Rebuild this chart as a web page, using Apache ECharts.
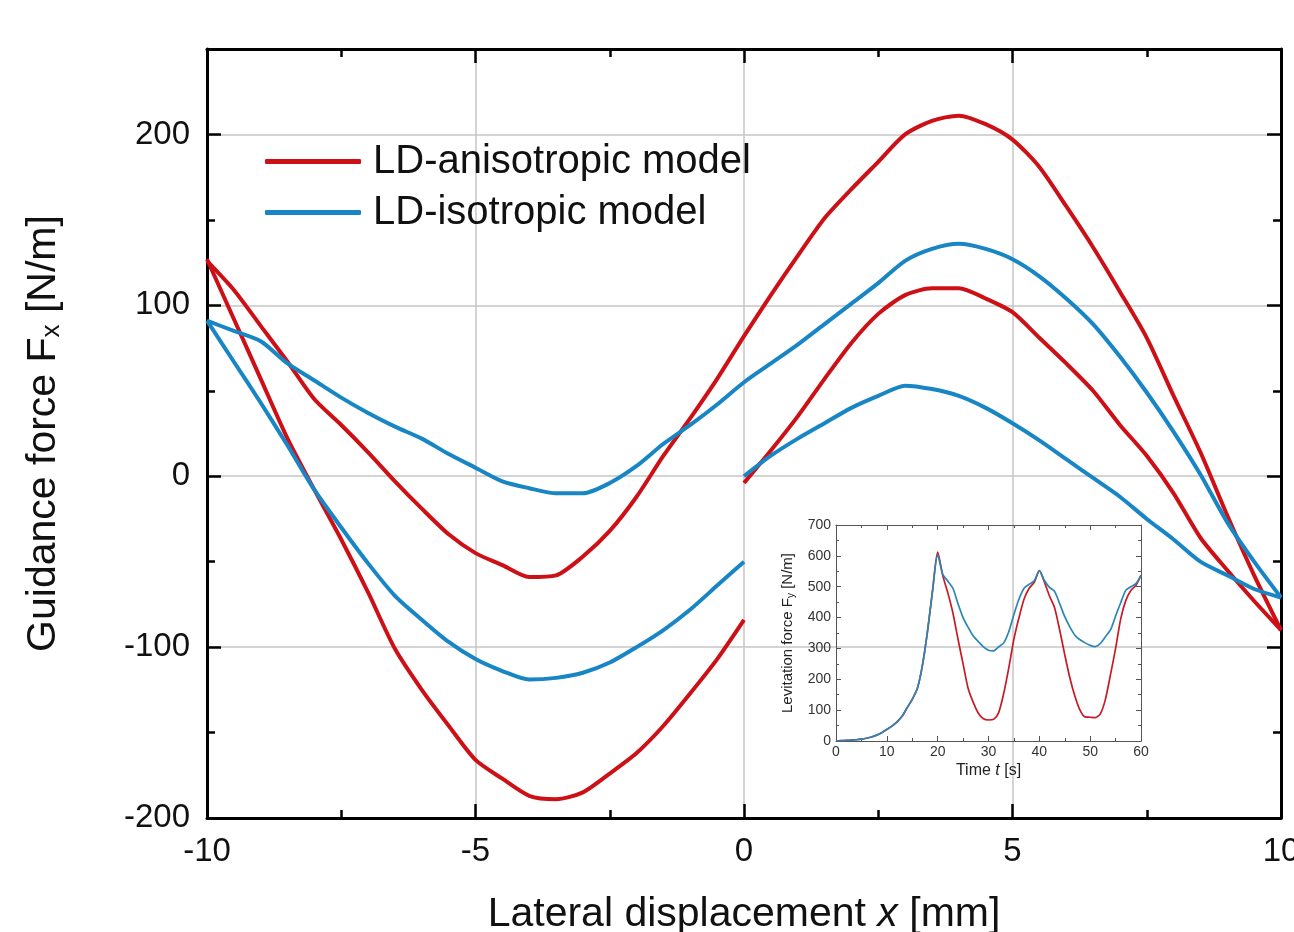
<!DOCTYPE html>
<html>
<head>
<meta charset="utf-8">
<script src="https://cdn.jsdelivr.net/npm/echarts@6/dist/echarts.min.js"></script>
<style>
html,body{margin:0;padding:0;background:#fff;}
#chart{width:1294px;height:932px;}
</style>
</head>
<body>
<div id="chart"></div>
<script>
// ---- Main chart data: lateral displacement x [mm] ----
const xFull = [-10,-9.5,-9,-8.5,-8,-7.5,-7,-6.5,-6,-5.5,-5,-4.5,-4,-3.5,-3,-2.5,-2,-1.5,-1,-0.5,0,0.5,1,1.5,2,2.5,3,3.5,4,4.5,5,5.5,6,6.5,7,7.5,8,8.5,9,9.5,10];
const xLeft = [-10,-9.5,-9,-8.5,-8,-7.5,-7,-6.5,-6,-5.5,-5,-4.5,-4,-3.5,-3,-2.5,-2,-1.5,-1,-0.5,0];
const xRight = [0,0.5,1,1.5,2,2.5,3,3.5,4,4.5,5,5.5,6,6.5,7,7.5,8,8.5,9,9.5,10];

// LD-anisotropic model, guidance force Fx [N/m]
const anisoUpper = [126,109,88,67,45,30,14,-3,-19,-34,-45,-52,-59,-58,-47,-32,-12,12,34,57,82,106,129,151,168,184,200,208,211,206,197,181,158,134,108,81,47,14,-23,-58,-90];
const anisoLowerLeft = [127,92,57,22,-8,-37,-68,-101,-125,-146,-166,-177,-187,-189,-185,-174,-162,-146,-127,-107,-84];
const anisoLowerRight = [-4,15,35,57,78,95,106,110,110,104,96,81,66,50,30,12,-10,-36,-55,-73,-90];

// LD-isotropic model, guidance force Fx [N/m]
const isoUpper = [91,85,79,66,56,46,37,29,22,13,5,-3,-7,-10,-10,-4,6,19,30,42,55,66,77,89,101,113,126,133,136,133,127,117,104,89,70,49,26,1,-27,-50,-71];
const isoLowerLeft = [91,67,43,18,-8,-30,-51,-70,-84,-97,-107,-114,-119,-118,-115,-109,-100,-90,-78,-64,-50];
const isoLowerRight = [0,12,22,31,40,47,53,51,47,40,31,21,10,-1,-12,-25,-37,-50,-58,-66,-71];

// ---- Inset data: time t [s] vs levitation force Fy [N/m] ----
const timeT = [0,1,2,3,4,5,6,7,8,9,10,11,12,13,14,15,16,17,18,19,20,21,22,23,24,25,26,27,28,29,30,31,32,33,34,35,36,37,38,39,40,41,42,43,44,45,46,47,48,49,50,51,52,53,54,55,56,57,58,59,60];
const anisoFy = [0,1,2,3,4,6,9,13,19,27,37,48,62,80,108,135,170,245,355,488,612,
  536,480,415,330,250,170,125,90,72,68,70,92,155,238,330,400,460,495,514,552,515,470,432,360,280,205,145,100,78,77,76,88,135,215,300,395,455,488,505,537];
const isoFy = [0,1,2,3,4,6,9,13,19,27,37,48,62,80,108,135,170,245,355,488,603,
  540,518,495,445,400,368,340,322,305,294,292,305,318,355,410,460,495,508,519,552,520,498,485,445,403,370,343,328,318,310,306,316,338,360,405,448,488,500,510,537];

// ---- Tick values ----
const mainYMinorTicks = [-150,-50,50,150];

const RED = '#cc1016';
const BLUE = '#1886c4';
const FONT = '"Liberation Sans", Arial, sans-serif';
const NAME_A = 'LD-anisotropic model';
const NAME_I = 'LD-isotropic model';

function zip(xs, ys) { return xs.map((x, i) => [x, ys[i]]); }

const chart = echarts.init(document.getElementById('chart'), null, {renderer: 'canvas'});

const frame = {onZero: false, lineStyle: {color: '#000', width: 3}};
const majTick = {show: true, inside: true, length: 14, lineStyle: {color: '#000', width: 2.5}};
const minTick = {show: true, splitNumber: 2, length: 8, lineStyle: {color: '#000', width: 2.5}};
const gridLine = {show: true, lineStyle: {color: '#c6c6c6', width: 1.5}};
const insetLine = {onZero: false, lineStyle: {color: '#555', width: 1}};
const insetTick = {show: true, inside: true, length: 5, lineStyle: {color: '#555', width: 1}};
const insetMinor = {show: true, splitNumber: 2, length: 3, lineStyle: {color: '#555', width: 1}};

function mainSeries(name, xs, ys, color) {
  return {
    name: name, type: 'line', xAxisIndex: 0, yAxisIndex: 0,
    data: zip(xs, ys), showSymbol: false, smooth: 0.25,
    lineStyle: {color: color, width: 4}, itemStyle: {color: color},
    z: 5
  };
}
function insetSeries(name, ys, color) {
  return {
    name: name, type: 'line', xAxisIndex: 2, yAxisIndex: 4,
    data: zip(timeT, ys), showSymbol: false, smooth: 0.25,
    lineStyle: {color: color, width: 1.7}, itemStyle: {color: color},
    z: 6
  };
}

const option = {
  animation: false,
  backgroundColor: '#fff',
  textStyle: {fontFamily: FONT},
  grid: [
    {left: 207, top: 49, width: 1074, height: 769, outerBoundsMode: 'none', containLabel: false},
    {left: 836, top: 525, width: 305, height: 216, outerBoundsMode: 'none', containLabel: false}
  ],
  legend: {
    orient: 'vertical', left: 260, top: 136,
    icon: 'roundRect', itemWidth: 96, itemHeight: 5, itemGap: 10,
    textStyle: {fontSize: 40, color: '#111', fontFamily: FONT, padding: [0, 0, 0, 7], lineHeight: 41},
    data: [{name: NAME_A}, {name: NAME_I}],
    selectedMode: false
  },
  xAxis: [
    {
      gridIndex: 0, type: 'value', position: 'bottom', min: -10, max: 10, interval: 5,
      axisLine: frame, axisTick: majTick, minorTick: minTick, splitLine: gridLine,
      axisLabel: {fontSize: 33, color: '#111', margin: 17, fontFamily: FONT},
      name: 'Lateral displacement {i|x} [mm]', nameLocation: 'middle', nameGap: 76,
      nameTextStyle: {fontSize: 41, color: '#111', fontFamily: FONT,
        rich: {i: {fontSize: 41, fontStyle: 'italic', color: '#111', fontFamily: FONT}}}
    },
    {
      gridIndex: 0, type: 'value', position: 'top', min: -10, max: 10, interval: 5,
      axisLine: frame, axisTick: majTick, minorTick: minTick,
      axisLabel: {show: false}, splitLine: {show: false}
    },
    {
      gridIndex: 1, type: 'value', position: 'bottom', min: 0, max: 60, interval: 10,
      axisLine: insetLine, axisTick: insetTick, minorTick: insetMinor, splitLine: {show: false},
      axisLabel: {fontSize: 14, color: '#333', margin: 4, fontFamily: FONT},
      name: 'Time {i|t} [s]', nameLocation: 'middle', nameGap: 22,
      nameTextStyle: {fontSize: 16, color: '#222', fontFamily: FONT,
        rich: {i: {fontSize: 16, fontStyle: 'italic', color: '#222', fontFamily: FONT}}}
    },
    {
      gridIndex: 1, type: 'value', position: 'top', min: 0, max: 60, interval: 10,
      axisLine: insetLine, axisTick: insetTick, minorTick: insetMinor,
      axisLabel: {show: false}, splitLine: {show: false}
    }
  ],
  yAxis: [
    {
      gridIndex: 0, type: 'value', position: 'left', min: -200, max: 250, interval: 100,
      axisLine: frame, axisTick: majTick, splitLine: gridLine,
      axisLabel: {fontSize: 33, color: '#111', margin: 17, showMaxLabel: false, fontFamily: FONT},
      name: 'Guidance force F{s|x} [N/m]', nameLocation: 'middle', nameGap: 142,
      nameTextStyle: {fontSize: 41, color: '#111', fontFamily: FONT,
        rich: {s: {fontSize: 26, color: '#111', fontFamily: FONT, padding: [16, 0, 0, 0]}}}
    },
    {
      gridIndex: 0, type: 'value', position: 'left', min: -200, max: 250,
      axisLine: {show: false, onZero: false},
      axisTick: {show: true, inside: true, length: 8, customValues: mainYMinorTicks, lineStyle: {color: '#000', width: 2.5}},
      axisLabel: {show: false}, splitLine: {show: false}
    },
    {
      gridIndex: 0, type: 'value', position: 'right', min: -200, max: 250, interval: 100,
      axisLine: frame, axisTick: majTick,
      axisLabel: {show: false}, splitLine: {show: false}
    },
    {
      gridIndex: 0, type: 'value', position: 'right', min: -200, max: 250,
      axisLine: {show: false, onZero: false},
      axisTick: {show: true, inside: true, length: 8, customValues: mainYMinorTicks, lineStyle: {color: '#000', width: 2.5}},
      axisLabel: {show: false}, splitLine: {show: false}
    },
    {
      gridIndex: 1, type: 'value', position: 'left', min: 0, max: 700, interval: 100,
      axisLine: insetLine, axisTick: insetTick, minorTick: insetMinor, splitLine: {show: false},
      axisLabel: {fontSize: 14, color: '#333', margin: 5, fontFamily: FONT},
      name: 'Levitation force F{s|y} [N/m]', nameLocation: 'middle', nameGap: 40,
      nameTextStyle: {fontSize: 15, color: '#222', fontFamily: FONT,
        rich: {s: {fontSize: 10, color: '#222', fontFamily: FONT, padding: [6, 0, 0, 0]}}}
    },
    {
      gridIndex: 1, type: 'value', position: 'right', min: 0, max: 700, interval: 100,
      axisLine: insetLine, axisTick: insetTick, minorTick: insetMinor,
      axisLabel: {show: false}, splitLine: {show: false}
    }
  ],
  series: [
    mainSeries(NAME_A, xFull, anisoUpper, RED),
    mainSeries(NAME_A, xLeft, anisoLowerLeft, RED),
    mainSeries(NAME_A, xRight, anisoLowerRight, RED),
    mainSeries(NAME_I, xFull, isoUpper, BLUE),
    mainSeries(NAME_I, xLeft, isoLowerLeft, BLUE),
    mainSeries(NAME_I, xRight, isoLowerRight, BLUE),
    insetSeries(NAME_A, anisoFy, '#c81a22'),
    insetSeries(NAME_I, isoFy, '#2a86b4')
  ]
};

chart.setOption(option);
</script>
</body>
</html>
